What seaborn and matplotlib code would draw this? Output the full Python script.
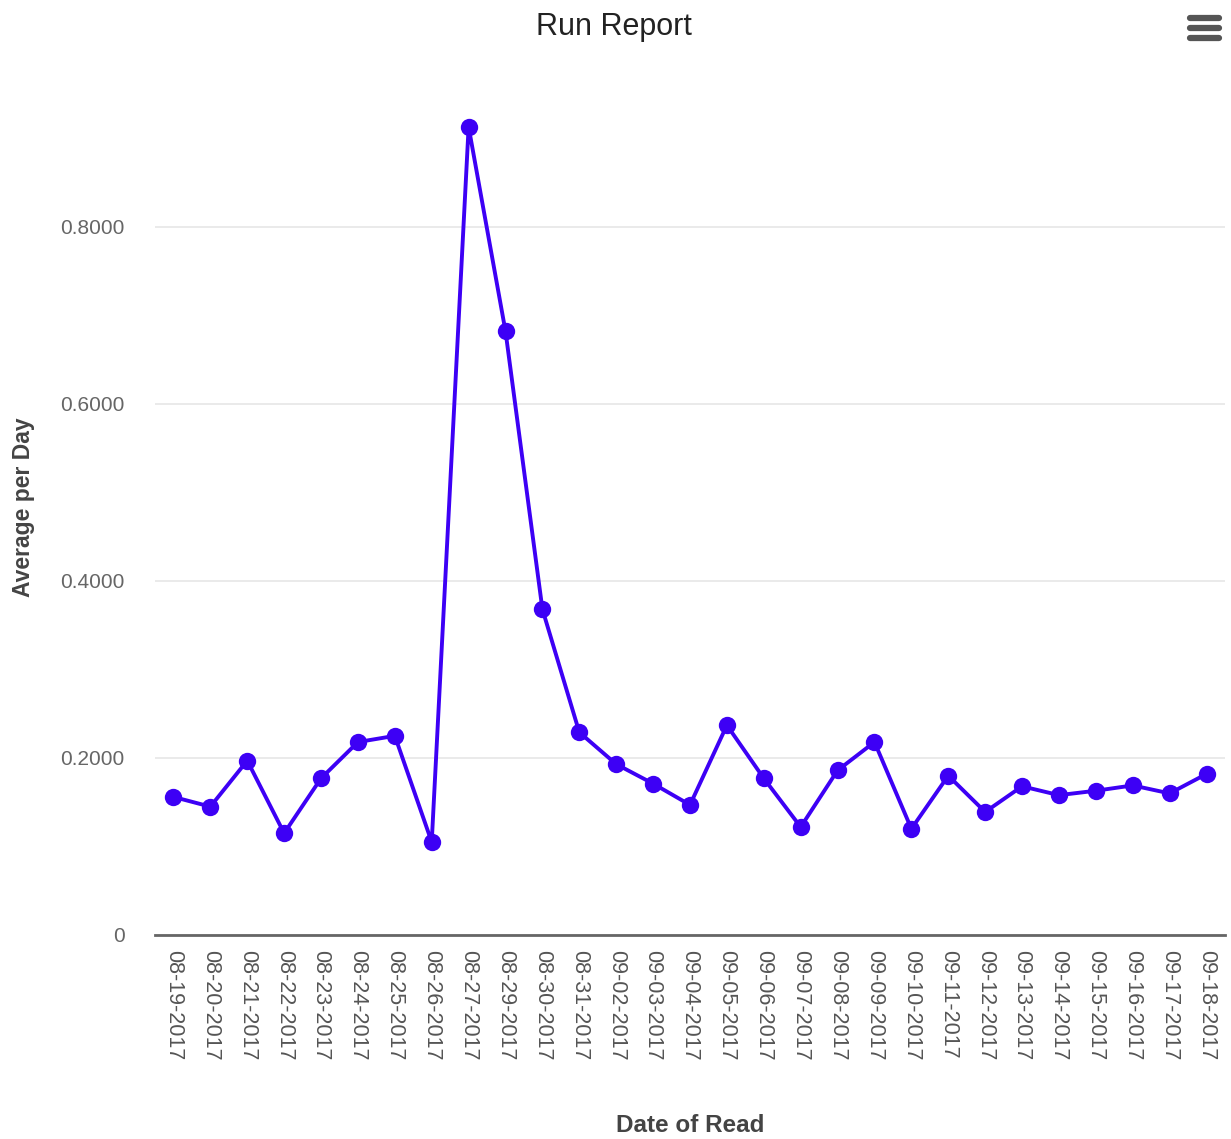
"""
Run Report - average per day by date of read.
"""
import matplotlib
matplotlib.use("Agg")
import matplotlib.pyplot as plt
from matplotlib.lines import Line2D
from matplotlib.ticker import FuncFormatter
import numpy as np
import pandas as pd
import seaborn as sns

datas = ["08-19-2017", "08-20-2017", "08-21-2017", "08-22-2017", "08-23-2017",
         "08-24-2017", "08-25-2017", "08-26-2017", "08-27-2017", "08-29-2017",
         "08-30-2017", "08-31-2017", "09-02-2017", "09-03-2017", "09-04-2017",
         "09-05-2017", "09-06-2017", "09-07-2017", "09-08-2017", "09-09-2017",
         "09-10-2017", "09-11-2017", "09-12-2017", "09-13-2017", "09-14-2017",
         "09-15-2017", "09-16-2017", "09-17-2017", "09-18-2017"]
medias = [0.156, 0.145, 0.197, 0.115, 0.177,
          0.218, 0.225, 0.105, 0.913, 0.682,
          0.368, 0.229, 0.193, 0.171, 0.147,
          0.237, 0.177, 0.122, 0.186, 0.218,
          0.120, 0.180, 0.139, 0.168, 0.158,
          0.163, 0.169, 0.160, 0.182]
ticks_y = [0, 0.2, 0.4, 0.6, 0.8]

df = pd.DataFrame({"data": datas, "media": medias})

sns.set_style("white")
plt.rcParams['font.family'] = ['Liberation Sans', 'DejaVu Sans']

fig = plt.figure(figsize=(12.31, 11.39), dpi=100)
ax = fig.add_axes([155 / 1231, 1 - 935 / 1139, (1225 - 155) / 1231, (935 - 80) / 1139])

sns.lineplot(data=df, x="data", y="media", sort=False, ax=ax,
             color="#3d00f5", linewidth=2.8, marker="o", markersize=12.5,
             markeredgewidth=0, zorder=3)

ax.set_xlim(-0.5, len(datas) - 0.5)
ax.set_ylim(0, 0.966)
ax.set_yticks(ticks_y)
ax.yaxis.set_major_formatter(FuncFormatter(lambda v, p: "0" if v == 0 else f"{v:.4f}"))
ax.grid(axis="y", color="#e6e6e6", linewidth=1.2)
ax.grid(axis="x", visible=False)

for lado in ["top", "right", "left"]:
    ax.spines[lado].set_visible(False)
ax.spines["bottom"].set_color("#666666")
ax.spines["bottom"].set_linewidth(2)

ax.set_xticks(range(len(datas)))
ax.set_xticklabels(datas, rotation=-90, fontsize=15.5, color="#555555")
ax.set_xticks(np.arange(-0.5, len(datas), 1), minor=True)
ax.tick_params(axis="x", which="major", length=0, pad=11)
ax.tick_params(axis="x", which="minor", length=10, color="#d0d0d0", width=1.2)
ax.tick_params(axis="y", length=0, labelsize=15, labelcolor="#666666", pad=22)

ax.set_xlabel("Date of Read", fontsize=17.5, fontweight="bold", color="#444444", labelpad=38)
ax.set_ylabel("Average per Day", fontsize=16.5, fontweight="bold", color="#444444", labelpad=18)

fig.text(614 / 1231, 1 - 27 / 1139, "Run Report", ha="center", va="center",
         fontsize=22, color="#222222")

# ícone de menu (hambúrguer)
for yy in [18, 28, 38]:
    fig.add_artist(Line2D([1190 / 1231, 1219 / 1231], [1 - yy / 1139] * 2,
                          color="#555555", linewidth=4.5, solid_capstyle="round"))

fig.savefig("out.png", dpi=100)
plt.close(fig)
